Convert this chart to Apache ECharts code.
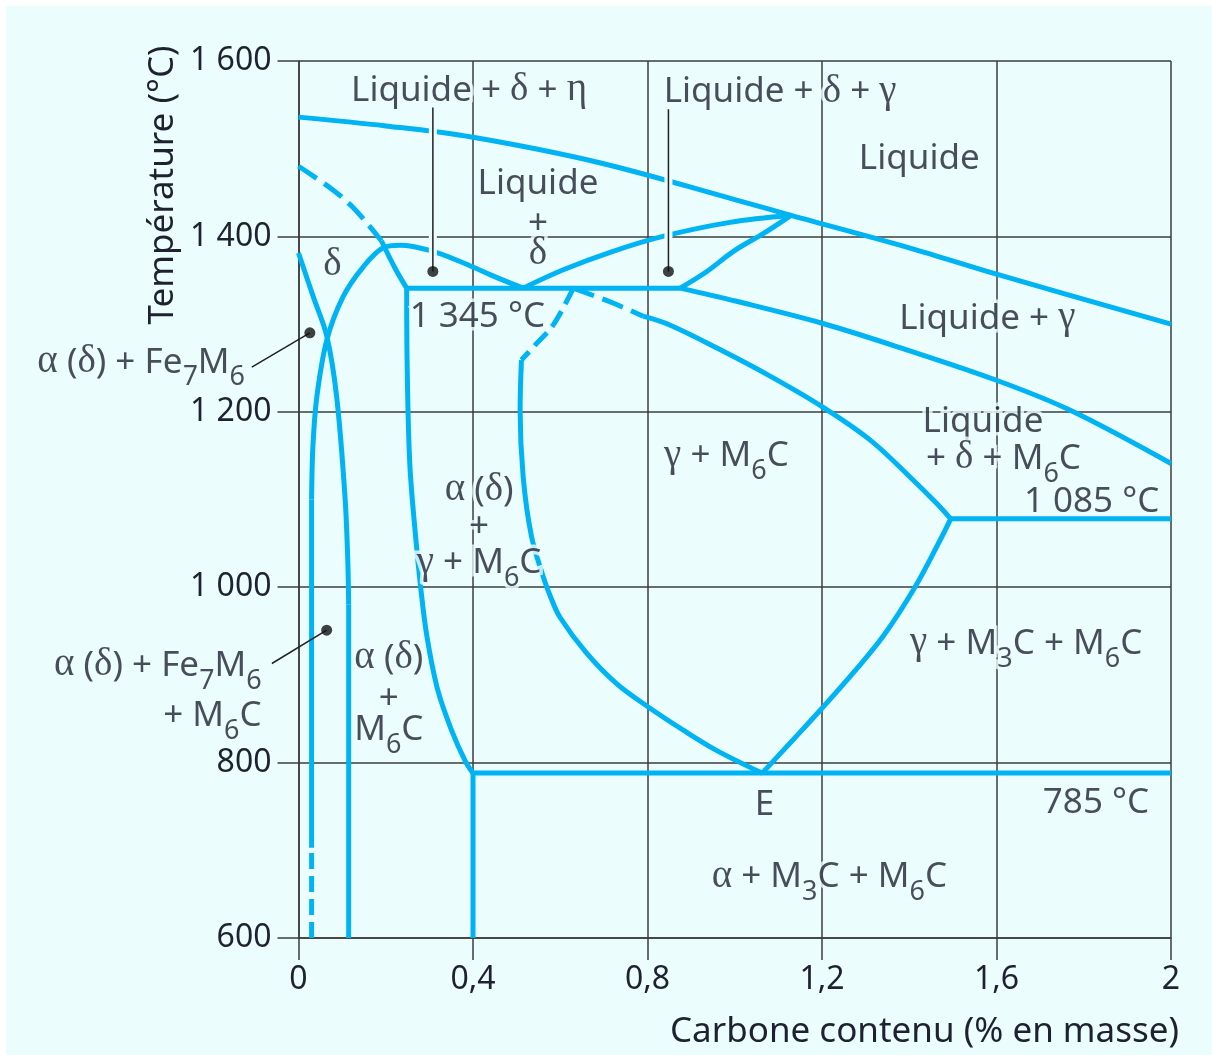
<!DOCTYPE html>
<html><head><meta charset="utf-8">
<script src="https://cdn.jsdelivr.net/npm/echarts@6/dist/echarts.min.js"></script>
<style>html,body{margin:0;background:#fff;width:1212px;height:1055px;overflow:hidden}#c{position:absolute;left:6px;top:6px;width:1206px;height:1049px;}</style>
</head><body><div id="c"></div>
<script>
// ---- axis ticks ----
const xTicks = [0, 0.4, 0.8, 1.2, 1.6, 2];
const yTicks = [600, 800, 1000, 1200, 1400, 1600];

// ---- phase boundaries (x = % C, y = °C) ----
const liquidus = [[0,1536],[0.2,1526],[0.4,1513],[0.69,1484],[1.0,1442],[1.129,1424],[1.4,1387],[1.6,1357],[2.0,1300]];
const deltaSolidusDashed = [[0,1480],[0.079,1453],[0.125,1433],[0.157,1415],[0.19,1395]];
const deltaSolidus = [[0.19,1395],[0.221,1364],[0.248,1341]];
const gammaLoopDashed = [[0.03,600],[0.03,703]];
const gammaLoopStraight = [[0.03,703],[0.03,1100]];
const gammaLoopArc = [[0.03,1100],[0.033,1160],[0.042,1217],[0.065,1282],[0.102,1331],[0.148,1365],[0.194,1387],[0.233,1390],[0.301,1384],[0.377,1370],[0.455,1353],[0.515,1341]];
const alphaSolvusCurve = [[0,1381],[0.034,1331],[0.065,1286],[0.0875,1217],[0.1066,1103],[0.113,1030],[0.115,980]];
const alphaSolvusStraight = [[0.115,980],[0.115,600]];
const alphaGammaCurve = [[0.248,1341],[0.249,1256],[0.255,1142],[0.268,1060],[0.28,1000],[0.294,945],[0.318,885],[0.35,838],[0.382,802],[0.4,788]];
const alphaVertical = [[0.4,788],[0.4,600]];
const eutectoid = [[0.4,788],[2,788]];
const peritectic = [[0.248,1341],[0.875,1341]];
const gammaLeftDashed = [[0.63,1341],[0.584,1299],[0.546,1278],[0.511,1259]];
const gammaLeft = [[0.511,1259],[0.508,1202],[0.515,1126],[0.534,1058],[0.561,1012],[0.577,990],[0.599,966],[0.66,925],[0.729,890],[0.8,864],[0.882,837],[0.958,814],[1.063,788]];
const gammaTopDashed = [[0.63,1341],[0.721,1324],[0.79,1309]];
const gammaTop = [[0.79,1309],[0.851,1299],[0.966,1271],[1.08,1241],[1.2,1206],[1.31,1168],[1.401,1126],[1.462,1096],[1.495,1078]];
const gammaRight = [[1.063,788],[1.13,824],[1.2,862],[1.271,902],[1.34,944],[1.413,1000],[1.47,1053],[1.495,1078]];
const eutectic = [[1.495,1078],[2,1078]];
const solidusRight = [[0.875,1341],[1.004,1326],[1.2,1301],[1.386,1272],[1.6,1236],[1.768,1202],[2.0,1141]];
const deltaLiquidusA = [[0.515,1341],[0.607,1362],[0.721,1383],[0.835,1400],[0.989,1416],[1.129,1424]];
const deltaLiquidusB = [[0.875,1341],[0.936,1360],[0.997,1383],[1.068,1404],[1.129,1424]];

// ---- leader lines and dots ----
const leaderTop1 = [[0.308,1547],[0.308,1360]];
const leaderTop2 = [[0.848,1545],[0.848,1360]];
const leaderLeft1 = [[-0.107,1251],[0.026,1290]];
const leaderLeft2 = [[-0.061,913],[0.0646,951]];
const leaderDots = [[0.308,1360],[0.848,1360],[0.026,1290],[0.0646,951]];

// ---- region labels: x, y, text ("_n" = subscript n) ----
const labelX = [0.391,1.104,1.423,0.549,0.549,0.549,0.078,0.410,1.579,1.569,1.616,1.818,0.981,0.414,0.414,0.414,0.207,0.207,0.207,1.668,1.068,1.828,1.217];
const labelY = [1569,1567,1491,1462,1417,1382,1369,1311,1309,1191,1149,1100,1152,1113,1071,1030,921,875,840,938,755,757,672];
const labelText = ['Liquide + δ + η','Liquide + δ + γ','Liquide','Liquide','+','δ','δ','1 345 °C','Liquide + γ','Liquide','+ δ + M_6C','1 085 °C','γ + M_6C','α (δ)','+','γ + M_6C','α (δ)','+','M_6C','γ + M_3C + M_6C','E','785 °C','α + M_3C + M_6C'];
// labels anchored by their right edge (outside the plot)
const sideLabelX = [-0.1226,-0.0844,-0.0844];
const sideLabelY = [1259,913,856];
const sideLabelText = ['α (δ) + Fe_7M_6','α (δ) + Fe_7M_6','+ M_6C'];

const CURVE = '#00b3f2', BG = '#ebfdfd', INK = '#1e2230', GRID = '#3c3c3c';
const FONT = 'Noto Sans';

function richText(s) {
  let out = '', buf = '';
  const flush = () => { if (buf) { out += '{n|' + buf + '}'; buf = ''; } };
  for (let i = 0; i < s.length; i++) {
    const c = s[i];
    if (c === '_') { flush(); out += '{s|' + s[i + 1] + '}'; i++; }
    else if ('αδγη'.includes(c)) { flush(); out += '{g|' + c + '}'; }
    else buf += c;
  }
  flush();
  return out;
}
const halo = { textBorderColor: BG, textBorderWidth: 7, color: INK };
const rich = {
  n: Object.assign({ fontFamily: FONT, fontSize: 35, lineHeight: 44, verticalAlign: 'bottom', padding: [0,0,11,0] }, halo),
  g: Object.assign({ fontFamily: 'Liberation Serif', fontSize: 39, lineHeight: 44, verticalAlign: 'bottom', padding: [0,0,10,0] }, halo),
  s: Object.assign({ fontFamily: FONT, fontSize: 27, lineHeight: 44, verticalAlign: 'bottom', padding: [0,0,0,0] }, halo)
};

function curve(data, opts) {
  opts = opts || {};
  return {
    type: 'line', data: data, showSymbol: false, symbol: 'none', z: 3,
    smooth: opts.smooth || false, clip: false, silent: true,
    lineStyle: { color: CURVE, width: 5, type: opts.dash || 'solid', cap: 'butt', join: 'round' }
  };
}
function leader(data) {
  return [
    { type: 'line', data: data, showSymbol: false, symbol: 'none', z: 5, clip: false, silent: true, lineStyle: { color: BG, width: 8 } },
    { type: 'line', data: data, showSymbol: false, symbol: 'none', z: 6, clip: false, silent: true, lineStyle: { color: '#222', width: 1.5 } }
  ];
}

const S = 0.35;
const series = [
  curve(liquidus, { smooth: S }),
  curve(deltaSolidusDashed, { smooth: S, dash: [22, 9] }),
  curve(deltaSolidus, { smooth: S }),
  curve(gammaLoopDashed, { dash: [16, 7] }),
  curve(gammaLoopStraight),
  curve(gammaLoopArc, { smooth: S }),
  curve(alphaSolvusCurve, { smooth: S }),
  curve(alphaSolvusStraight),
  curve(alphaGammaCurve, { smooth: S }),
  curve(alphaVertical),
  curve(eutectoid),
  curve(peritectic),
  curve(gammaLeftDashed, { smooth: S, dash: [18, 8] }),
  curve(gammaLeft, { smooth: S }),
  curve(gammaTopDashed, { smooth: 0.3, dash: [22, 9] }),
  curve(gammaTop, { smooth: S }),
  curve(gammaRight, { smooth: S }),
  curve(eutectic),
  curve(solidusRight, { smooth: S }),
  curve(deltaLiquidusA, { smooth: S }),
  curve(deltaLiquidusB, { smooth: S })
].concat(leader(leaderTop1), leader(leaderTop2));

// leaders that start outside the plot area
series.push({
  type: 'custom', z: 6, silent: true, clip: false,
  data: [leaderLeft1[0].concat(leaderLeft1[1]), leaderLeft2[0].concat(leaderLeft2[1])],
  renderItem: (params, api) => {
    const a = api.coord([api.value(0), api.value(1)]);
    const b = api.coord([api.value(2), api.value(3)]);
    return { type: 'line', shape: { x1: a[0], y1: a[1], x2: b[0], y2: b[1] }, style: { stroke: '#222', lineWidth: 1.5 } };
  }
});

series.push({
  type: 'scatter', data: leaderDots, symbol: 'circle', symbolSize: 11, z: 7, clip: false, silent: true,
  itemStyle: { color: '#111' }
});

const labelData = labelText.map((t, i) => ({ value: [labelX[i], labelY[i]], name: t }));
const sideData = sideLabelText.map((t, i) => ({ value: [sideLabelX[i], sideLabelY[i]], name: t, label: { align: 'right' } }));
series.push({
  type: 'scatter', data: labelData.concat(sideData), symbolSize: 1, z: 20, clip: false, silent: true,
  itemStyle: { color: 'rgba(0,0,0,0)' },
  label: { show: true, position: 'inside', align: 'center', verticalAlign: 'middle', offset: [0, 9], formatter: p => richText(p.name), rich: rich }
});

const chart = echarts.init(document.getElementById('c'));
chart.setOption({
  backgroundColor: BG,
  animation: false,
  grid: { left: 292.5, right: 41, top: 55, bottom: 117 },
  xAxis: {
    type: 'value', min: xTicks[0], max: xTicks[xTicks.length - 1], interval: 0.4,
    axisLine: { show: true, onZero: false, lineStyle: { color: GRID, width: 1.5 } },
    axisTick: { show: true, length: 22, lineStyle: { color: GRID, width: 1.5 } },
    splitLine: { show: true, lineStyle: { color: GRID, width: 1.5 } },
    axisLabel: { margin: 26, color: INK, fontFamily: FONT, fontSize: 32, formatter: v => String(+(+v).toFixed(1)).replace('.', ',') }
  },
  yAxis: {
    type: 'value', min: yTicks[0], max: yTicks[yTicks.length - 1], interval: 200,
    axisLine: { show: true, onZero: false, lineStyle: { color: GRID, width: 1.5 } },
    axisTick: { show: true, length: 21, lineStyle: { color: GRID, width: 1.5 } },
    splitLine: { show: true, lineStyle: { color: GRID, width: 1.5 } },
    axisLabel: { margin: 27, color: INK, fontFamily: FONT, fontSize: 32, formatter: v => v >= 1000 ? Math.floor(v / 1000) + ' ' + String(v % 1000).padStart(3, '0') : String(v) }
  },
  graphic: [
    { type: 'text', x: 157, y: 179, rotation: Math.PI / 2, z: 30,
      style: { text: 'Température (°C)', fill: INK, font: '35px "Noto Sans"', textAlign: 'center', textVerticalAlign: 'middle' } },
    { type: 'text', x: 1173, y: 1026, z: 30,
      style: { text: 'Carbone contenu (% en masse)', fill: INK, font: '35px "Noto Sans"', textAlign: 'right', textVerticalAlign: 'middle' } }
  ],
  series: series
});
</script></body></html>
